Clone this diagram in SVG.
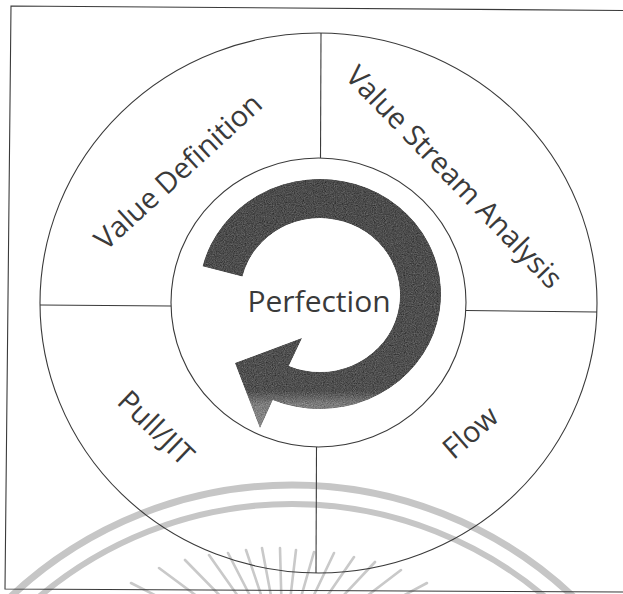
<svg xmlns="http://www.w3.org/2000/svg" width="623" height="594" viewBox="0 0 623 594">
  <style>
    .ln { fill: none; stroke: #3a3a3a; stroke-width: 1.1; }
    .lbl { font-family: "Open Sans", "Noto Sans", "DejaVu Sans", sans-serif; font-size: 29px; fill: #3a3a3a; text-anchor: middle; }
    .wm { fill: none; stroke: #c6c6c6; }
    .ray { stroke: #c9c9c9; stroke-width: 2.6; stroke-linecap: round; }
  </style>
  <defs>
    <linearGradient id="arrowFill" gradientUnits="userSpaceOnUse" x1="0" y1="170" x2="0" y2="430">
      <stop offset="0" stop-color="#4c4c4c"/>
      <stop offset="0.85" stop-color="#505050"/>
      <stop offset="0.9" stop-color="#7c7c7c"/>
      <stop offset="1" stop-color="#8a8a8a"/>
    </linearGradient>
    <filter id="grain" x="-5%" y="-5%" width="110%" height="110%" color-interpolation-filters="sRGB">
      <feTurbulence type="fractalNoise" baseFrequency="0.9" numOctaves="2" seed="7" result="t"/>
      <feColorMatrix in="t" type="matrix" values="0.33 0.33 0.33 0 0  0.33 0.33 0.33 0 0  0.33 0.33 0.33 0 0  0 0 0 0 1" result="g"/>
      <feComposite in="SourceGraphic" in2="g" operator="arithmetic" k1="0" k2="1" k3="0.6" k4="-0.3" result="m"/>
      <feComposite in="m" in2="SourceGraphic" operator="in"/>
    </filter>
  </defs>

  <rect width="623" height="594" fill="#ffffff"/>

  <!-- watermark seal (faint) -->
  <g id="watermark">
    <circle class="wm" cx="292" cy="895" r="410" stroke-width="7"/>
    <circle class="wm" cx="292" cy="895" r="391" stroke-width="6"/>
    <g class="ray">
      <line x1="131" y1="583" x2="164.6" y2="600"/>
      <line x1="159" y1="568" x2="202.1" y2="600"/>
      <line x1="185" y1="560" x2="224.2" y2="600"/>
      <line x1="209" y1="555" x2="240.7" y2="600"/>
      <line x1="228" y1="553" x2="252.2" y2="600"/>
      <line x1="246" y1="550" x2="262.8" y2="600"/>
      <line x1="262" y1="548" x2="271.8" y2="600"/>
      <line x1="280" y1="548" x2="281.4" y2="600"/>
      <line x1="296" y1="550" x2="290.1" y2="600"/>
      <line x1="314" y1="552" x2="300.2" y2="600"/>
      <line x1="334" y1="553" x2="311.6" y2="600"/>
      <line x1="354" y1="557" x2="324.4" y2="600"/>
      <line x1="375" y1="562" x2="339.3" y2="600"/>
      <line x1="401" y1="570" x2="361.7" y2="600"/>
      <line x1="427" y1="583" x2="395.2" y2="600"/>
    </g>
  </g>

  <!-- frame -->
  <g id="frame" class="ln">
    <polyline points="623,10.5 11,6 5,589 623,592"/>
  </g>

  <!-- rings -->
  <g id="rings" class="ln">
    <ellipse cx="318.5" cy="303" rx="278.5" ry="270"/>
    <ellipse cx="318.5" cy="302.5" rx="147.5" ry="144.5"/>
  </g>

  <!-- dividers between quadrants -->
  <g id="connectors" class="ln">
    <line x1="321" y1="33" x2="320.5" y2="158"/>
    <line x1="316.5" y1="447" x2="316" y2="573"/>
    <line x1="40" y1="305" x2="171" y2="306"/>
    <line x1="466" y1="310.5" x2="597" y2="312"/>
  </g>

  <g id="value-definition">
    <text class="lbl" transform="translate(185,179) rotate(-42.5)">Value Definition</text>
  </g>

  <g id="value-stream-analysis">
    <text class="lbl" transform="translate(447,184) rotate(46)">Value Stream Analysis</text>
  </g>

  <g id="pull-jit">
    <text class="lbl" transform="translate(149,435) rotate(44)">Pull/JIT</text>
  </g>

  <g id="flow">
    <text class="lbl" transform="translate(477,440) rotate(-41)">Flow</text>
  </g>

  <g id="perfection">
    <path d="M202.6,266.2 A121,115 0 1 1 272.7,399.9 L260,428 L235,363 L302,338 L288.7,365.9 A80,77 0 1 0 242.4,276.4 Z" fill="url(#arrowFill)" filter="url(#grain)"/>
    <text class="lbl" x="319" y="312" style="font-size:30px">Perfection</text>
  </g>
</svg>
